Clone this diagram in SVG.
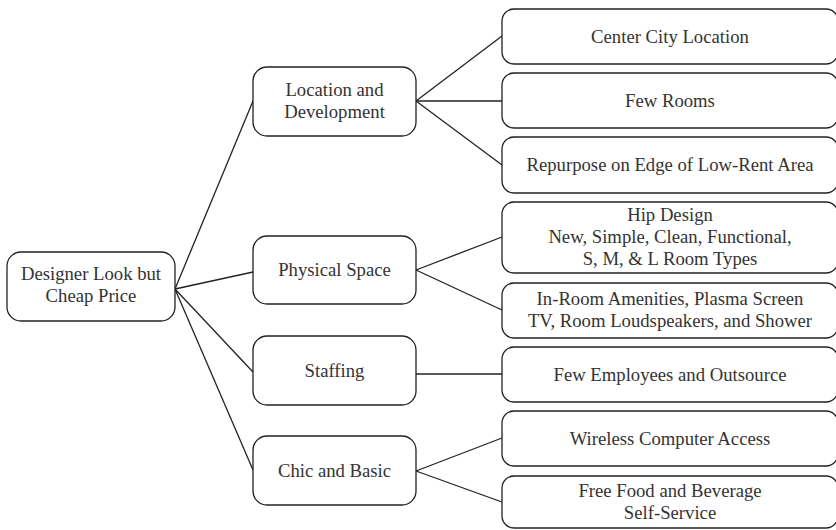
<svg xmlns="http://www.w3.org/2000/svg" width="836" height="530" viewBox="0 0 836 530">
<style>
.box{fill:#fff;stroke:#222;stroke-width:1.3}
.t{font-family:'Liberation Serif','DejaVu Serif',serif;font-size:18.7px;fill:#333;text-anchor:middle}
.c{stroke:#222;stroke-width:1.3;fill:none}
</style>
<rect width="836" height="530" fill="#fff"/>
<g id="connectors">
<line class="c" x1="175" y1="289" x2="253" y2="101"/>
<line class="c" x1="175" y1="289" x2="253" y2="272"/>
<line class="c" x1="175" y1="289" x2="253" y2="372"/>
<line class="c" x1="175" y1="289" x2="253" y2="470"/>
<line class="c" x1="416" y1="101" x2="502" y2="36"/>
<line class="c" x1="416" y1="101" x2="502" y2="101"/>
<line class="c" x1="416" y1="101" x2="502" y2="165"/>
<line class="c" x1="416" y1="270" x2="502" y2="237"/>
<line class="c" x1="416" y1="270" x2="502" y2="310"/>
<line class="c" x1="416" y1="374" x2="502" y2="374"/>
<line class="c" x1="416" y1="471" x2="502" y2="438"/>
<line class="c" x1="416" y1="471" x2="502" y2="502"/>
</g>
<g id="root">
<rect class="box" x="7" y="252" width="168" height="69" rx="14"/>
<text class="t" x="91" y="280">Designer Look but</text>
<text class="t" x="91" y="302">Cheap Price</text>
</g>
<g id="location">
<rect class="box" x="253" y="67" width="163" height="69" rx="14"/>
<text class="t" x="334.5" y="96">Location and</text>
<text class="t" x="334.5" y="118">Development</text>
</g>
<g id="physical">
<rect class="box" x="253" y="236" width="163" height="68" rx="14"/>
<text class="t" x="334.5" y="276">Physical Space</text>
</g>
<g id="staffing">
<rect class="box" x="253" y="336" width="163" height="69" rx="14"/>
<text class="t" x="334.5" y="377">Staffing</text>
</g>
<g id="chic">
<rect class="box" x="253" y="436" width="163" height="69" rx="14"/>
<text class="t" x="334.5" y="477">Chic and Basic</text>
</g>
<g id="center-city">
<rect class="box" x="502" y="9" width="336" height="55" rx="12"/>
<text class="t" x="670" y="43">Center City Location</text>
</g>
<g id="few-rooms">
<rect class="box" x="502" y="73" width="336" height="55" rx="12"/>
<text class="t" x="670" y="107">Few Rooms</text>
</g>
<g id="repurpose">
<rect class="box" x="502" y="137" width="336" height="56" rx="12"/>
<text class="t" x="670" y="171">Repurpose on Edge of Low-Rent Area</text>
</g>
<g id="hip-design">
<rect class="box" x="502" y="202" width="336" height="71" rx="12"/>
<text class="t" x="670" y="221">Hip Design</text>
<text class="t" x="670" y="243">New, Simple, Clean, Functional,</text>
<text class="t" x="670" y="265">S, M, &amp; L Room Types</text>
</g>
<g id="in-room">
<rect class="box" x="502" y="283" width="336" height="55" rx="12"/>
<text class="t" x="670" y="305">In-Room Amenities, Plasma Screen</text>
<text class="t" x="670" y="327">TV, Room Loudspeakers, and Shower</text>
</g>
<g id="few-employees">
<rect class="box" x="502" y="347" width="336" height="55" rx="12"/>
<text class="t" x="670" y="381">Few Employees and Outsource</text>
</g>
<g id="wireless">
<rect class="box" x="502" y="411" width="336" height="55" rx="12"/>
<text class="t" x="670" y="445">Wireless Computer Access</text>
</g>
<g id="free-food">
<rect class="box" x="502" y="476" width="336" height="52" rx="12"/>
<text class="t" x="670" y="497">Free Food and Beverage</text>
<text class="t" x="670" y="519">Self-Service</text>
</g>
</svg>
